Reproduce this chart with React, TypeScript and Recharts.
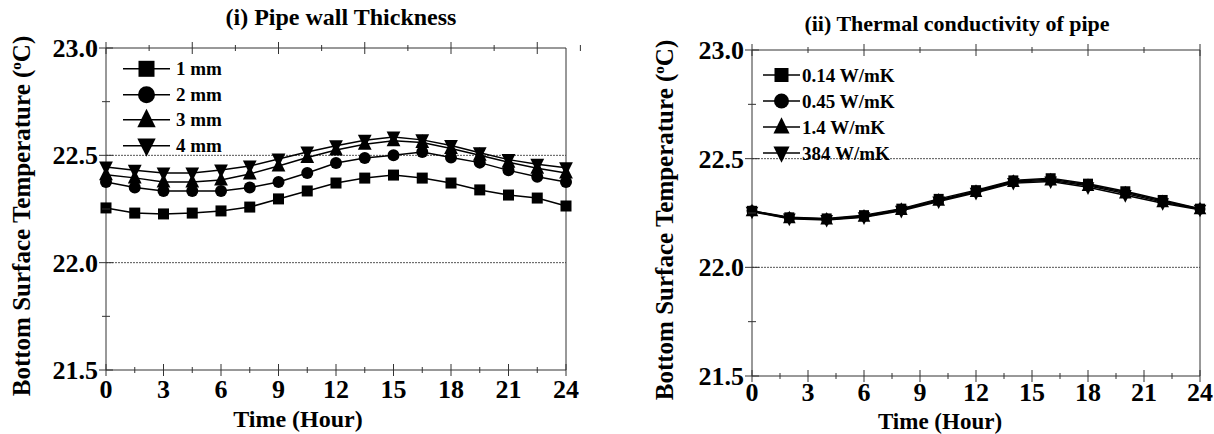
import React from "react";
import { LineChart, Line, XAxis, YAxis, ReferenceLine, Legend } from "recharts";

// ---- data ----
const hoursA = [0, 1.5, 3, 4.5, 6, 7.5, 9, 10.5, 12, 13.5, 15, 16.5, 18, 19.5, 21, 22.5, 24];
const mm1 = [22.255, 22.231, 22.227, 22.231, 22.241, 22.259, 22.297, 22.334, 22.371, 22.394, 22.408, 22.394, 22.371, 22.339, 22.315, 22.301, 22.264];
const mm2 = [22.376, 22.35, 22.334, 22.334, 22.334, 22.35, 22.376, 22.418, 22.464, 22.488, 22.5, 22.516, 22.49, 22.466, 22.43, 22.4, 22.376];
const mm3 = [22.41, 22.395, 22.376, 22.376, 22.385, 22.413, 22.45, 22.49, 22.525, 22.552, 22.568, 22.56, 22.532, 22.5, 22.468, 22.44, 22.418];
const mm4 = [22.446, 22.43, 22.418, 22.418, 22.432, 22.45, 22.483, 22.516, 22.545, 22.57, 22.585, 22.572, 22.546, 22.512, 22.48, 22.458, 22.442];

const hoursB = [0, 2, 4, 6, 8, 10, 12, 14, 16, 18, 20, 22, 24];
const k014 = [22.26, 22.23, 22.225, 22.24, 22.27, 22.315, 22.355, 22.4, 22.41, 22.385, 22.35, 22.31, 22.27];
const k045 = [22.26, 22.228, 22.222, 22.236, 22.267, 22.31, 22.35, 22.397, 22.405, 22.38, 22.345, 22.305, 22.268];
const k14 = [22.258, 22.226, 22.22, 22.233, 22.264, 22.307, 22.347, 22.393, 22.4, 22.375, 22.34, 22.3, 22.267];
const k384 = [22.256, 22.224, 22.218, 22.23, 22.26, 22.303, 22.343, 22.388, 22.395, 22.368, 22.332, 22.295, 22.265];

const xTicks = [0, 1.5, 3, 4.5, 6, 7.5, 9, 10.5, 12, 13.5, 15, 16.5, 18, 19.5, 21, 22.5, 24];
const yTicks = [21.5, 21.75, 22, 22.25, 22.5, 22.75, 23];

const dataA = hoursA.map((h, i) => ({ h, mm1: mm1[i], mm2: mm2[i], mm3: mm3[i], mm4: mm4[i] }));
const dataB = hoursB.map((h, i) => ({ h, k014: k014[i], k045: k045[i], k14: k14[i], k384: k384[i] }));

const FONT = '"Liberation Serif", "Times New Roman", serif';
const AX = "#333";
const TICK_FS = 26;

const shapes: Record<string, string> = {
  mm1: "square", mm2: "circle", mm3: "up", mm4: "down",
  k014: "square", k045: "circle", k14: "up", k384: "down",
};

function Marker({ shape, cx, cy, s }: { shape: string; cx: number; cy: number; s: number }) {
  if (shape === "square") return <rect x={cx - s / 2} y={cy - s / 2} width={s} height={s} fill="#000" />;
  if (shape === "circle") return <circle cx={cx} cy={cy} r={s / 2 + 0.5} fill="#000" />;
  const t = s * 1.15;
  if (shape === "up")
    return <path d={`M${cx},${cy - t * 0.6} L${cx - t / 2},${cy + t * 0.4} L${cx + t / 2},${cy + t * 0.4} Z`} fill="#000" />;
  return <path d={`M${cx},${cy + t * 0.6} L${cx - t / 2},${cy - t * 0.4} L${cx + t / 2},${cy - t * 0.4} Z`} fill="#000" />;
}

const dot = (shape: string, s: number) => (p: any) =>
  p.cx == null ? <g key={p.index} /> : <Marker key={p.index} shape={shape} cx={p.cx} cy={p.cy} s={s} />;

const xTick = (label: boolean, axisY: number, off: number) => (p: any) => {
  const major = p.payload.value % 3 === 0;
  const len = major ? 6 : 3;
  return (
    <g>
      <line x1={p.x} x2={p.x} y1={axisY - len} y2={axisY + len} stroke={AX} strokeWidth={1} />
      {label && major && (
        <text x={p.x} y={axisY + off} textAnchor="middle" fontFamily={FONT} fontWeight="bold" fontSize={TICK_FS} fill="#000">
          {p.payload.value}
        </text>
      )}
    </g>
  );
};

const yTick = (label: boolean, axisX: number) => (p: any) => {
  const v = p.payload.value;
  const major = Math.abs(v * 2 - Math.round(v * 2)) < 1e-6;
  const len = major ? 7 : 4;
  return (
    <g>
      <line x1={axisX - len} x2={axisX + len} y1={p.y} y2={p.y} stroke={AX} strokeWidth={1} />
      {label && major && (
        <text x={axisX - 8} y={p.y + 9} textAnchor="end" fontFamily={FONT} fontWeight="bold" fontSize={TICK_FS} fill="#000">
          {v.toFixed(1)}
        </text>
      )}
    </g>
  );
};

const legendContent = (lineLen: number, s: number, rowH: number, fs: number, gap: number) => (props: any) => (
  <div>
    {(props.payload || []).map((e: any) => (
      <div key={e.value} style={{ display: "flex", alignItems: "center", height: rowH }}>
        <svg width={lineLen} height={rowH}>
          <line x1={0} x2={lineLen} y1={rowH / 2} y2={rowH / 2} stroke="#000" strokeWidth={1.5} />
          <Marker shape={shapes[e.dataKey]} cx={lineLen / 2} cy={rowH / 2} s={s} />
        </svg>
        <span style={{ marginLeft: gap, fontFamily: FONT, fontWeight: "bold", fontSize: fs, color: "#000", lineHeight: 1 }}>
          {e.value}
        </span>
      </div>
    ))}
  </div>
);

function YTitle({ x, y }: { x: number; y: number }) {
  return (
    <text transform={`rotate(-90, ${x}, ${y})`} x={x} y={y} textAnchor="middle" fontFamily={FONT} fontWeight="bold" fontSize={25} fill="#000">
      Bottom Surface Temperature (<tspan dy={-9} fontSize={15}>o</tspan>
      <tspan dy={9}>C)</tspan>
    </text>
  );
}

function Panel(props: {
  data: any[];
  keys: string[];
  names: string[];
  sizes: number[];
  plot: { left: number; right: number; top: number; bottom: number };
  tickOff: number;
  title: string;
  titleSize: number;
  titleX: number;
  titleY: number;
  yTitleX: number;
  yTitleY: number;
  xTitleX: number;
  xTitleY: number;
  xTitleSize: number;
  legend: { left: number; top: number; lineLen: number; s: number; rowH: number; fs: number; gap: number };
}) {
  const { data, keys, names, sizes, plot, legend } = props;
  const W = 607;
  const H = 434;
  const margin = { top: plot.top - 1, right: W - plot.right - 1, bottom: H - plot.bottom - 30, left: plot.left - 60 };
  return (
    <LineChart width={W} height={H} data={data} margin={margin}>
      <XAxis dataKey="h" type="number" domain={[0, 24]} ticks={xTicks} interval={0} height={30}
        tickLine={false} stroke={AX} tick={xTick(true, plot.bottom, props.tickOff)} />
      <XAxis xAxisId="top" orientation="top" type="number" domain={[0, 24]} ticks={xTicks} interval={0} height={1}
        tickLine={false} stroke={AX} tick={xTick(false, plot.top, 0)} />
      <YAxis type="number" domain={[21.5, 23]} ticks={yTicks} interval={0} width={60}
        tickLine={false} stroke={AX} tick={yTick(true, plot.left)} />
      <YAxis yAxisId="right" orientation="right" type="number" domain={[21.5, 23]} ticks={yTicks} interval={0} width={1}
        tickLine={false} stroke={AX} tick={yTick(false, plot.right)} />
      <ReferenceLine y={22.5} stroke="#555" strokeWidth={1} strokeDasharray="2 1" />
      <ReferenceLine y={22} stroke="#555" strokeWidth={1} strokeDasharray="2 1" />
      {keys.map((k, i) => (
        <Line key={k} dataKey={k} name={names[i]} stroke="#000" strokeWidth={1.5}
          dot={dot(shapes[k], sizes[i])} activeDot={false} isAnimationActive={false} />
      ))}
      <Legend layout="vertical" align="center" verticalAlign="middle"
        wrapperStyle={{ left: legend.left, top: legend.top, width: "auto", height: "auto" }}
        content={legendContent(legend.lineLen, legend.s, legend.rowH, legend.fs, legend.gap)} />
      <text x={props.titleX} y={props.titleY} textAnchor="middle" fontFamily={FONT} fontWeight="bold" fontSize={props.titleSize} fill="#000">
        {props.title}
      </text>
      <text x={props.xTitleX} y={props.xTitleY} textAnchor="middle" fontFamily={FONT} fontWeight="bold" fontSize={props.xTitleSize} fill="#000">
        Time (Hour)
      </text>
      <YTitle x={props.yTitleX} y={props.yTitleY} />
    </LineChart>
  );
}

export default function App() {
  return (
    <div style={{ position: "relative", width: 1214, height: 434, background: "#fff" }}>
      <style>{"body{margin:0}"}</style>
      <div style={{ position: "absolute", left: 0, top: 0 }}>
        <Panel
          data={dataA}
          keys={["mm1", "mm2", "mm3", "mm4"]}
          names={["1 mm", "2 mm", "3 mm", "4 mm"]}
          sizes={[11, 11, 12, 12]}
          plot={{ left: 106, right: 566, top: 48, bottom: 370 }}
          tickOff={28}
          title="(i) Pipe wall Thickness"
          titleSize={24}
          titleX={341}
          titleY={25}
          yTitleX={30}
          yTitleY={216}
          xTitleX={298}
          xTitleY={427}
          xTitleSize={24}
          legend={{ left: 123, top: 56, lineLen: 47, s: 16, rowH: 25.6, fs: 19, gap: 6 }}
        />
      </div>
      <div style={{ position: "absolute", left: 607, top: 0 }}>
        <Panel
          data={dataB}
          keys={["k014", "k045", "k14", "k384"]}
          names={["0.14 W/mK", "0.45 W/mK", "1.4 W/mK", "384 W/mK"]}
          sizes={[10, 10, 11, 11]}
          plot={{ left: 145, right: 593, top: 50, bottom: 376 }}
          tickOff={25}
          title="(ii) Thermal conductivity of pipe"
          titleSize={22}
          titleX={350}
          titleY={31}
          yTitleX={66}
          yTitleY={220}
          xTitleX={333}
          xTitleY={429}
          xTitleSize={23}
          legend={{ left: 156, top: 62, lineLen: 37, s: 14, rowH: 26, fs: 19, gap: 2 }}
        />
      </div>
    </div>
  );
}
